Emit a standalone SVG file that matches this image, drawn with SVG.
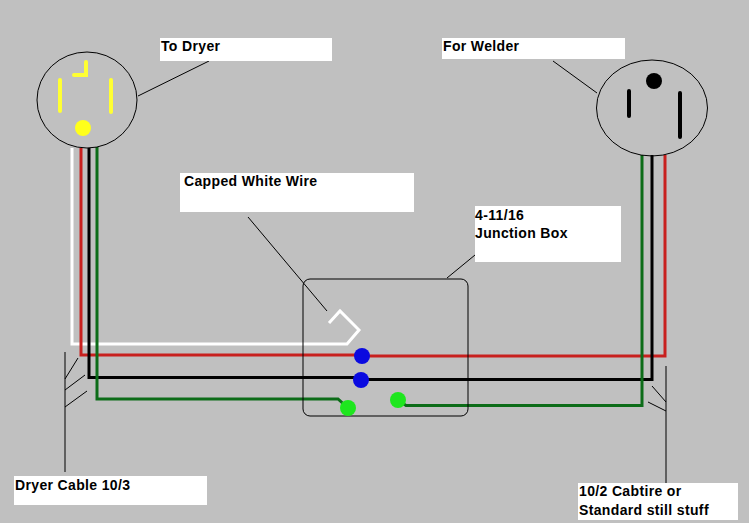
<svg xmlns="http://www.w3.org/2000/svg" width="749" height="523" viewBox="0 0 749 523">
<style>
.thin{fill:none;stroke:#000;stroke-width:1}
.w{fill:none;stroke-width:3;stroke-linejoin:miter}
.lb{fill:#fff}
text{font-family:"Liberation Sans",Arial,sans-serif;font-size:14px;font-weight:bold;fill:#000;letter-spacing:.35px}
.y{stroke:#ffff33;stroke-width:4;stroke-linecap:round;fill:none}
.k{stroke:#000;stroke-width:4;stroke-linecap:round;fill:none}
</style>
<rect width="749" height="523" fill="#c0c0c0"/>
<g id="connectors">
<path class="thin" d="M138 96L209 61M553 61L597 93M248 217L327 311M447 278L475 255"/>
<path class="thin" d="M65 352V472M65 379L78 358M65 390L85 375M65 407L87 391M666 366V483M666 402L652 386M666 411L648 402"/>
<path class="w" stroke="#fff" d="M72 148V344H347L359 330L340 311L329 323"/>
<path class="w" stroke="#c8201e" d="M81 148V355H362V356H665V155"/>
<path class="w" stroke="#000" d="M89 148V377.500H361V379.500H652V155"/>
<path class="w" stroke="#0c6c18" d="M97 147V399H338L348 408M398 400L406 405.500H642V155"/>
</g>
<g id="dryer-outlet">
<ellipse class="thin" cx="87" cy="100" rx="50" ry="48"/>
<path class="y" d="M60 80V111M111 80V112M74 75H86V62"/>
<circle cx="83" cy="128" r="8" fill="#ffff1a"/>
</g>
<g id="welder-outlet">
<ellipse class="thin" cx="652" cy="108" rx="55.500" ry="48"/>
<path class="k" d="M629 91V116M680 93V137"/>
<circle cx="654" cy="81" r="8" fill="#000"/>
</g>
<g id="junction-box">
<rect class="thin" x="303" y="279" width="165" height="137" rx="7"/>
<circle cx="362" cy="356" r="8" fill="#0a0ae0"/>
<circle cx="361" cy="380" r="8" fill="#0a0ae0"/>
<circle cx="348" cy="408" r="8" fill="#1ee61e"/>
<circle cx="398" cy="400" r="8" fill="#1ee61e"/>
</g>
<g id="label-to-dryer"><rect class="lb" x="160" y="38" width="172" height="23"/><text x="161" y="51">To Dryer</text></g>
<g id="label-for-welder"><rect class="lb" x="442" y="38" width="183" height="21"/><text x="443" y="51">For Welder</text></g>
<g id="label-capped"><rect class="lb" x="180" y="173" width="234" height="39"/><text x="184" y="186">Capped White Wire</text></g>
<g id="label-junction"><rect class="lb" x="475" y="206" width="146" height="56"/><text x="475" y="220">4-11/16</text><text x="475" y="238">Junction Box</text></g>
<g id="label-dryer-cable"><rect class="lb" x="14" y="476" width="193" height="29"/><text x="15" y="490">Dryer Cable 10/3</text></g>
<g id="label-cabtire"><rect class="lb" x="578" y="483" width="160" height="37"/><text x="579" y="496">10/2 Cabtire or</text><text x="579" y="515">Standard still stuff</text></g>
</svg>
